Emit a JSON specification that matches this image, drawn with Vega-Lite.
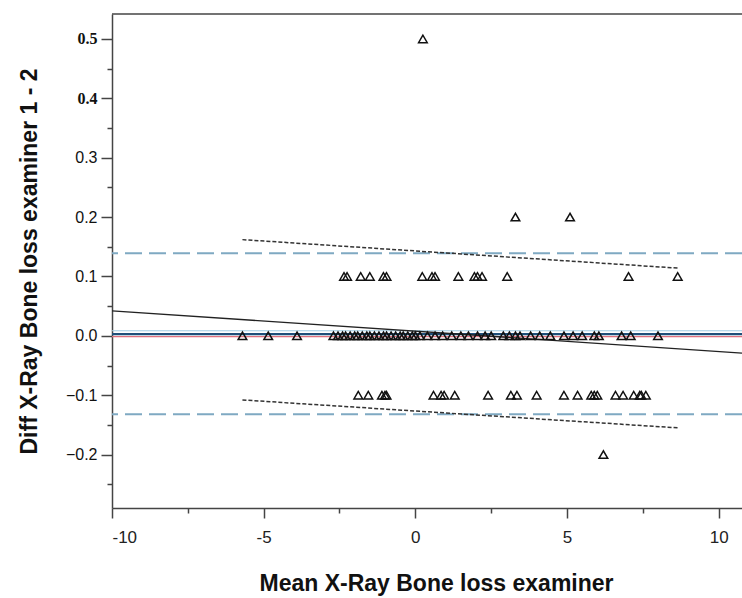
{
  "$schema": "https://vega.github.io/schema/vega-lite/v6.json",
  "width": 630,
  "height": 494,
  "autosize": "none",
  "padding": {"left": 112, "top": 14, "right": 0, "bottom": 90},
  "background": "white",
  "config": {"view": {"stroke": null}},
  "datasets": {
    "points": [
      {"x": 0.25, "y": 0.5},
      {"x": 3.3, "y": 0.2}, {"x": 5.1, "y": 0.2},
      {"x": -2.35, "y": 0.1}, {"x": -2.25, "y": 0.1}, {"x": -1.8, "y": 0.1}, {"x": -1.5, "y": 0.1},
      {"x": -1.05, "y": 0.1}, {"x": -0.95, "y": 0.1}, {"x": 0.23, "y": 0.1}, {"x": 0.55, "y": 0.1},
      {"x": 0.65, "y": 0.1}, {"x": 1.42, "y": 0.1}, {"x": 1.95, "y": 0.1}, {"x": 2.05, "y": 0.1},
      {"x": 2.2, "y": 0.1}, {"x": 3.03, "y": 0.1}, {"x": 7.03, "y": 0.1}, {"x": 8.65, "y": 0.1},
      {"x": -5.7, "y": 0}, {"x": -4.85, "y": 0}, {"x": -3.9, "y": 0}, {"x": -2.7, "y": 0},
      {"x": -2.55, "y": 0}, {"x": -2.4, "y": 0}, {"x": -2.3, "y": 0}, {"x": -2.15, "y": 0},
      {"x": -2.0, "y": 0}, {"x": -1.9, "y": 0}, {"x": -1.75, "y": 0}, {"x": -1.6, "y": 0},
      {"x": -1.5, "y": 0}, {"x": -1.35, "y": 0}, {"x": -1.2, "y": 0}, {"x": -1.05, "y": 0},
      {"x": -0.95, "y": 0}, {"x": -0.8, "y": 0}, {"x": -0.65, "y": 0}, {"x": -0.5, "y": 0},
      {"x": -0.4, "y": 0}, {"x": -0.25, "y": 0}, {"x": -0.1, "y": 0}, {"x": 0.0, "y": 0},
      {"x": 0.15, "y": 0}, {"x": 0.4, "y": 0}, {"x": 0.65, "y": 0}, {"x": 0.9, "y": 0},
      {"x": 1.2, "y": 0}, {"x": 1.5, "y": 0}, {"x": 1.75, "y": 0}, {"x": 2.05, "y": 0},
      {"x": 2.3, "y": 0}, {"x": 2.5, "y": 0}, {"x": 2.9, "y": 0}, {"x": 3.1, "y": 0},
      {"x": 3.3, "y": 0}, {"x": 3.45, "y": 0}, {"x": 3.8, "y": 0}, {"x": 4.1, "y": 0},
      {"x": 4.45, "y": 0}, {"x": 4.9, "y": 0}, {"x": 5.2, "y": 0}, {"x": 5.5, "y": 0},
      {"x": 5.9, "y": 0}, {"x": 6.05, "y": 0}, {"x": 6.8, "y": 0}, {"x": 7.1, "y": 0},
      {"x": 8.0, "y": 0},
      {"x": -1.88, "y": -0.1}, {"x": -1.55, "y": -0.1}, {"x": -1.1, "y": -0.1}, {"x": -1.0, "y": -0.1},
      {"x": -0.95, "y": -0.1}, {"x": 0.6, "y": -0.1}, {"x": 0.85, "y": -0.1}, {"x": 0.95, "y": -0.1},
      {"x": 1.3, "y": -0.1}, {"x": 2.4, "y": -0.1}, {"x": 3.15, "y": -0.1}, {"x": 3.35, "y": -0.1},
      {"x": 4.0, "y": -0.1}, {"x": 4.9, "y": -0.1}, {"x": 5.35, "y": -0.1}, {"x": 5.8, "y": -0.1},
      {"x": 5.9, "y": -0.1}, {"x": 6.0, "y": -0.1}, {"x": 6.6, "y": -0.1}, {"x": 6.85, "y": -0.1},
      {"x": 7.2, "y": -0.1}, {"x": 7.4, "y": -0.1}, {"x": 7.45, "y": -0.1}, {"x": 7.6, "y": -0.1},
      {"x": 6.2, "y": -0.2}
    ],
    "refs": [
      {"name": "upper", "y": 0.139},
      {"name": "lower", "y": -0.132},
      {"name": "ci", "y": 0.0085},
      {"name": "mean", "y": 0.003},
      {"name": "zero", "y": -0.0015}
    ],
    "fits": [
      {"series": "reg", "x": -10, "y": 0.042},
      {"series": "reg", "x": 10.77, "y": -0.029},
      {"series": "up", "x": -5.7, "y": 0.162},
      {"series": "up", "x": 8.65, "y": 0.114},
      {"series": "lo", "x": -5.7, "y": -0.108},
      {"series": "lo", "x": 8.65, "y": -0.155}
    ]
  },
  "layer": [
    {
      "data": {"name": "refs"},
      "transform": [{"filter": "datum.name === 'upper' || datum.name === 'lower'"}],
      "mark": {"type": "rule", "color": "#7fa9c2", "strokeWidth": 2, "strokeDash": [17, 7]},
      "encoding": {"y": {"field": "y", "type": "quantitative", "scale": {"domain": [-0.29, 0.542], "nice": false}, "axis": null}}
    },
    {
      "data": {"name": "refs"},
      "transform": [{"filter": "datum.name === 'ci'"}],
      "mark": {"type": "rule", "color": "#9fcbe3", "strokeWidth": 1},
      "encoding": {"y": {"field": "y", "type": "quantitative", "scale": {"domain": [-0.29, 0.542], "nice": false}, "axis": null}}
    },
    {
      "data": {"name": "refs"},
      "transform": [{"filter": "datum.name === 'zero'"}],
      "mark": {"type": "rule", "color": "#e0707e", "strokeWidth": 1.2},
      "encoding": {"y": {"field": "y", "type": "quantitative", "scale": {"domain": [-0.29, 0.542], "nice": false}, "axis": null}}
    },
    {
      "data": {"name": "refs"},
      "transform": [{"filter": "datum.name === 'mean'"}],
      "mark": {"type": "rule", "color": "#1f4f7a", "strokeWidth": 2.2},
      "encoding": {"y": {"field": "y", "type": "quantitative", "scale": {"domain": [-0.29, 0.542], "nice": false}, "axis": null}}
    },
    {
      "data": {"name": "fits"},
      "transform": [{"filter": "datum.series === 'reg'"}],
      "mark": {"type": "line", "color": "#222", "strokeWidth": 1.3, "clip": true},
      "encoding": {
        "x": {"field": "x", "type": "quantitative", "scale": {"domain": [-10, 10.77], "nice": false},
          "axis": {"orient": "bottom", "values": [-7.5, -2.5, 2.5, 7.5], "labels": false, "domain": false, "grid": false, "tickSize": 5, "tickWidth": 1.5, "tickColor": "#444", "title": null}},
        "y": {"field": "y", "type": "quantitative", "scale": {"domain": [-0.29, 0.542], "nice": false},
          "axis": {"orient": "left", "values": [-0.25, -0.15, -0.05, 0.05, 0.15, 0.25, 0.35, 0.45], "labels": false, "domain": false, "grid": false, "tickSize": 5, "tickWidth": 1.5, "tickColor": "#444", "title": null}}
      }
    },
    {
      "data": {"name": "fits"},
      "transform": [{"filter": "datum.series !== 'reg'"}],
      "mark": {"type": "line", "color": "#333", "strokeWidth": 1.5, "strokeDash": [4, 2]},
      "encoding": {
        "x": {"field": "x", "type": "quantitative", "scale": {"domain": [-10, 10.77], "nice": false}, "axis": null},
        "y": {"field": "y", "type": "quantitative", "scale": {"domain": [-0.29, 0.542], "nice": false}, "axis": null},
        "detail": {"field": "series"}
      }
    },
    {
      "data": {"name": "points"},
      "mark": {"type": "point", "shape": "triangle-up", "filled": false, "stroke": "#111", "strokeWidth": 1.5, "size": 75, "opacity": 1},
      "encoding": {
        "x": {"field": "x", "type": "quantitative", "scale": {"domain": [-10, 10.77], "nice": false},
          "axis": {"orient": "bottom", "values": [-10, -5, 0, 5, 10], "grid": false, "tickSize": 10, "tickWidth": 1.5, "tickColor": "#444",
            "labelExpr": "datum.value < 0 ? '-' + abs(datum.value) : '' + datum.value",
            "domainColor": "#444", "domainWidth": 1.5, "labelFont": "Liberation Sans", "labelFontSize": 17, "labelColor": "#222", "labelPadding": 11,
            "title": "Mean X-Ray Bone loss examiner", "titleFont": "Liberation Sans", "titleFontSize": 23, "titleFontWeight": "bold", "titleColor": "#111",
            "titleX": 324, "titleY": 64}},
        "y": {"field": "y", "type": "quantitative", "scale": {"domain": [-0.29, 0.542], "nice": false},
          "axis": {"orient": "left", "values": [-0.2, -0.1, 0, 0.1, 0.2, 0.3, 0.4, 0.5], "format": ".1f", "grid": false, "tickSize": 11, "tickWidth": 1.5, "tickColor": "#444",
            "domainColor": "#444", "domainWidth": 1.5,
            "labelFont": {"condition": {"test": "datum.value > 0.35", "value": "Liberation Serif"}, "value": "Liberation Sans"},
            "labelFontWeight": {"condition": {"test": "datum.value > 0.35", "value": "bold"}, "value": "normal"},
            "labelFontSize": 16, "labelColor": "#111", "labelPadding": 4,
            "title": "Diff X-Ray Bone loss examiner 1 - 2", "titleFont": "Liberation Sans", "titleFontSize": 23, "titleFontWeight": "bold", "titleColor": "#111",
            "titleX": -71, "titleY": 247}}
      }
    },
    {
      "data": {"values": [{"top": 0.542}]},
      "mark": {"type": "rule", "color": "#444", "strokeWidth": 1.5},
      "encoding": {"y": {"field": "top", "type": "quantitative", "scale": {"domain": [-0.29, 0.542], "nice": false}, "axis": null}}
    }
  ],
  "resolve": {"axis": {"x": "independent", "y": "independent"}}
}
